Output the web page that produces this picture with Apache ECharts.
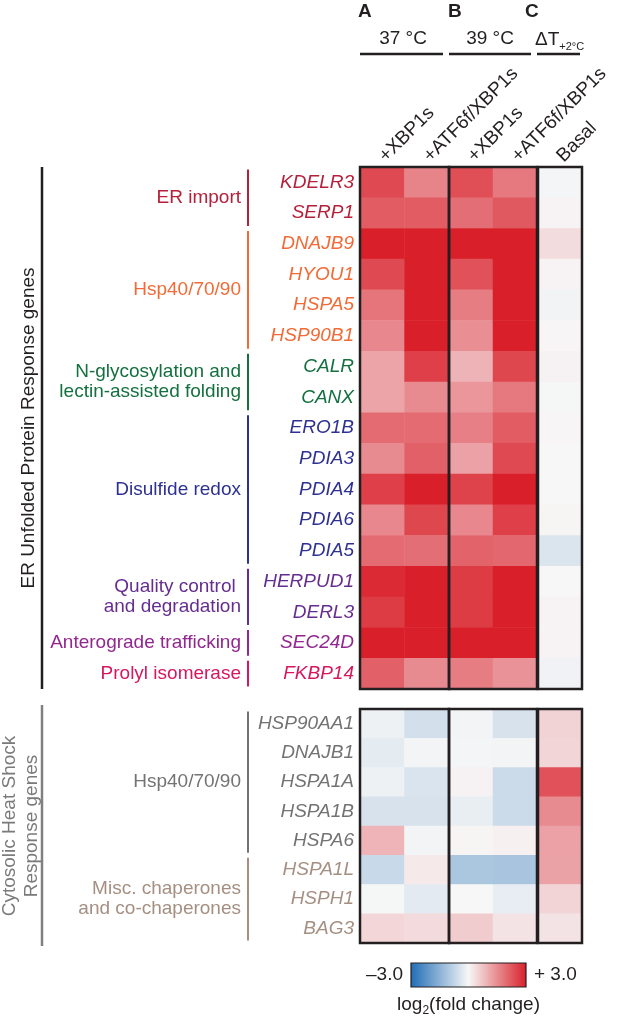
<!DOCTYPE html>
<html>
<head>
<meta charset="utf-8">
<script src="https://cdn.jsdelivr.net/npm/echarts@6/dist/echarts.min.js"></script>
<style>
  html, body { margin: 0; padding: 0; background: #fff; }
  #main { width: 617px; height: 1020px; }
</style>
</head>
<body>
<div id="main"></div>
<script>
// genes (rows)
const uprGenes = ['KDELR3', 'SERP1', 'DNAJB9', 'HYOU1', 'HSPA5', 'HSP90B1', 'CALR', 'CANX', 'ERO1B',
  'PDIA3', 'PDIA4', 'PDIA6', 'PDIA5', 'HERPUD1', 'DERL3', 'SEC24D', 'FKBP14'];
const hsGenes = ['HSP90AA1', 'DNAJB1', 'HSPA1A', 'HSPA1B', 'HSPA6', 'HSPA1L', 'HSPH1', 'BAG3'];

// conditions (columns)
const conditions37 = ['+XBP1s', '+ATF6f/XBP1s'];
const conditions39 = ['+XBP1s', '+ATF6f/XBP1s'];
const conditionsDelta = ['Basal'];

// log2(fold change), ER UPR genes
const upr37XBP1s = [2.4, 2.15, 3.0, 2.4, 1.8, 1.55, 1.15, 1.15, 1.95, 1.5, 2.55, 1.55, 1.95, 2.85, 2.6, 3.0, 2.1];
const upr37ATF6 = [1.6, 2.15, 3.0, 3.0, 3.0, 3.0, 2.55, 1.5, 1.95, 2.1, 3.0, 2.45, 1.9, 3.0, 3.0, 3.0, 1.5];
const upr39XBP1s = [2.35, 1.9, 3.0, 2.3, 1.7, 1.45, 0.95, 1.35, 1.65, 1.2, 2.5, 1.55, 2.05, 2.6, 2.6, 3.0, 1.7];
const upr39ATF6 = [1.75, 2.2, 3.0, 3.0, 3.0, 3.0, 2.45, 1.75, 2.15, 2.4, 3.0, 2.55, 2.0, 3.0, 3.0, 3.0, 1.4];
const uprBasal = [-0.04, 0.05, 0.37, 0.05, -0.08, 0.03, 0.08, -0.03, 0.03, 0.0, 0.0, 0.04, -0.4, 0.0, 0.05, 0.05, -0.1];

// log2(fold change), cytosolic heat shock genes
const hs37XBP1s = [-0.12, -0.26, -0.14, -0.45, 0.93, -0.65, -0.03, 0.45];
const hs37ATF6 = [-0.5, -0.06, -0.42, -0.45, -0.06, 0.2, -0.28, 0.4];
const hs39XBP1s = [-0.06, -0.05, 0.08, -0.19, 0.04, -1.05, 0.0, 0.6];
const hs39ATF6 = [-0.45, -0.06, -0.6, -0.6, 0.1, -1.1, -0.22, 0.28];
const hsBasal = [0.5, 0.47, 2.3, 1.5, 1.2, 1.18, 0.48, 0.28];

// colour scale
const scaleMin = -3, scaleMax = 3;
const scaleLabels = ['\u20133.0', '+ 3.0'];

// functional groups
const uprGroupNames = ['ER import', 'Hsp40/70/90', 'N-glycosylation and\nlectin-assisted folding',
  'Disulfide redox', 'Quality control \nand degradation', 'Anterograde trafficking', 'Prolyl isomerase'];
const uprGroupSizes = [2, 4, 2, 5, 2, 1, 1];
const hsGroupNames = ['Hsp40/70/90', 'Misc. chaperones\nand co-chaperones'];
const hsGroupSizes = [5, 3];

const uprGroupColors = ['#b5203a', '#f26a35', '#14703f', '#2e3192', '#652d90', '#92278f', '#d6175e'];
const hsGroupColors = ['#737373', '#a48f82'];
const rampColors = ['#1f6db5', '#f7f7f7', '#d91f29'];

const FONT = '"Liberation Sans", Arial, sans-serif';
const INK = '#231f20';

// layout
const BOX_X = [360, 449, 538];
const BOX_W = [89, 88, 44];
const SECT_Y = [167, 709];
const SECT_H = [522, 234];
const BAR = { x: 411, y: 963, w: 115, h: 24 };

function rowColors(sizes, colors) {
  const out = [];
  sizes.forEach((n, i) => { for (let k = 0; k < n; k++) out.push(colors[i]); });
  return out;
}

const sections = [
  { genes: uprGenes, cols: [[upr37XBP1s, upr37ATF6], [upr39XBP1s, upr39ATF6], [uprBasal]],
    colors: rowColors(uprGroupSizes, uprGroupColors) },
  { genes: hsGenes, cols: [[hs37XBP1s, hs37ATF6], [hs39XBP1s, hs39ATF6], [hsBasal]],
    colors: rowColors(hsGroupSizes, hsGroupColors) }
];
const boxLabels = [conditions37, conditions39, conditionsDelta];

const grids = [], xAxes = [], yAxes = [], series = [];
sections.forEach((sec, s) => {
  sec.cols.forEach((cols, b) => {
    const gi = grids.length;
    grids.push({ left: BOX_X[b], top: SECT_Y[s], width: BOX_W[b], height: SECT_H[s] });
    xAxes.push({
      type: 'category', gridIndex: gi, data: boxLabels[b], position: 'top',
      axisLine: { show: false }, axisTick: { show: false }, splitLine: { show: false },
      axisLabel: { show: s === 0, rotate: -45, interval: 0, margin: 8, fontSize: 19, fontFamily: FONT, color: INK }
    });
    yAxes.push({
      type: 'category', gridIndex: gi, data: sec.genes, inverse: true,
      axisLine: { show: false }, axisTick: { show: false }, splitLine: { show: false },
      axisLabel: {
        show: b === 0, interval: 0, margin: 6, fontSize: 19, fontStyle: 'italic', fontFamily: FONT,
        color: (v, i) => sec.colors[i]
      }
    });
    const data = [];
    cols.forEach((vals, xi) => vals.forEach((v, yi) => data.push([xi, yi, v])));
    series.push({
      type: 'heatmap', xAxisIndex: gi, yAxisIndex: gi, data: data,
      emphasis: { disabled: true }, itemStyle: { borderWidth: 0 }
    });
  });
});

const chart = echarts.init(document.getElementById('main'));
chart.setOption({
  animation: false,
  grid: grids,
  xAxis: xAxes,
  yAxis: yAxes,
  visualMap: {
    type: 'continuous', show: false, min: scaleMin, max: scaleMax,
    inRange: { color: rampColors },
    seriesIndex: series.map((_, i) => i)
  },
  series: series
});

// annotations
const g = [];
function txt(x, y, text, opt) {
  const o = Object.assign({ size: 19, color: INK, align: 'left', valign: 'middle', weight: 'normal', rot: 0, lh: 20 }, opt || {});
  g.push({
    type: 'text', x: x, y: y, rotation: o.rot, z: 10,
    style: {
      text: text, fontSize: o.size, fontFamily: FONT, fontWeight: o.weight, fill: o.color, lineHeight: o.lh,
      align: o.align, textAlign: o.align, verticalAlign: o.valign, textVerticalAlign: o.valign,
      rich: o.rich
    }
  });
}
function line(x1, y1, x2, y2, color, w) {
  g.push({ type: 'line', z: 10, shape: { x1: x1, y1: y1, x2: x2, y2: y2 }, style: { stroke: color, lineWidth: w } });
}

// panel letters and temperature headers
txt(358, 12, 'A', { weight: 'bold' });
txt(448, 12, 'B', { weight: 'bold' });
txt(525, 12, 'C', { weight: 'bold' });
txt(BOX_X[0] + 43, 39, '37 \u00b0C', { align: 'center' });
txt(BOX_X[1] + 41, 39, '39 \u00b0C', { align: 'center' });
txt(535, 40, '{a|\u0394T}{s|+2\u00b0C}', {
  rich: { a: { fontSize: 19, fontFamily: FONT, fill: INK }, s: { fontSize: 11, fontFamily: FONT, fill: INK, padding: [14, 0, 0, 0] } }
});
line(BOX_X[0], 54, BOX_X[0] + 83, 54, INK, 2.5);
line(BOX_X[1], 54, BOX_X[1] + 82, 54, INK, 2.5);
line(BOX_X[2] - 1, 54, BOX_X[2] + 42, 54, INK, 2.5);

// boxes round heatmap blocks
sections.forEach((sec, s) => {
  BOX_X.forEach((bx, b) => {
    g.push({ type: 'rect', z: 20, shape: { x: bx, y: SECT_Y[s], width: BOX_W[b], height: SECT_H[s] },
      style: { fill: 'none', stroke: INK, lineWidth: 2.5 } });
  });
});

// group brackets and labels
function groups(gridIndex, names, sizes, colors, nRows, sectH) {
  const half = sectH / nRows / 2;
  let start = 0;
  names.forEach((name, i) => {
    const yTop = chart.convertToPixel({ gridIndex: gridIndex }, [0, start])[1] - half;
    const yBot = chart.convertToPixel({ gridIndex: gridIndex }, [0, start + sizes[i] - 1])[1] + half;
    line(248, yTop + 2.5, 248, yBot - 2.5, colors[i], 2);
    txt(241, (yTop + yBot) / 2, name, { align: 'right', color: colors[i] });
    start += sizes[i];
  });
}
groups(0, uprGroupNames, uprGroupSizes, uprGroupColors, uprGenes.length, SECT_H[0]);
groups(3, hsGroupNames, hsGroupSizes, hsGroupColors, hsGenes.length, SECT_H[1]);

// section titles
line(42, SECT_Y[0], 42, SECT_Y[0] + SECT_H[0], INK, 2.5);
txt(29, SECT_Y[0] + SECT_H[0] / 2, 'ER Unfolded Protein Response genes', { align: 'center', rot: Math.PI / 2 });
line(42, SECT_Y[1] - 4, 42, SECT_Y[1] + SECT_H[1] + 3, '#808080', 2.5);
txt(21, SECT_Y[1] + SECT_H[1] / 2, 'Cytosolic Heat Shock\nResponse genes',
  { align: 'center', rot: Math.PI / 2, color: '#7a7a7a', lh: 22 });

// colour bar, built from the same ramp as the visual map
g.push({ type: 'rect', z: 20, shape: { x: BAR.x, y: BAR.y, width: BAR.w, height: BAR.h },
  style: {
    stroke: INK, lineWidth: 1.2,
    fill: { type: 'linear', x: 0, y: 0, x2: 1, y2: 0,
      colorStops: rampColors.map((c, i) => ({ offset: i / (rampColors.length - 1), color: c })) }
  } });
txt(BAR.x - 8, BAR.y + BAR.h / 2, scaleLabels[0], { align: 'right' });
txt(BAR.x + BAR.w + 8, BAR.y + BAR.h / 2, scaleLabels[1], { align: 'left' });
txt(BAR.x + BAR.w / 2, 1005, '{t|log}{s|2}{t|(fold change)}', {
  align: 'center',
  rich: { t: { fontSize: 19, fontFamily: FONT, fill: INK }, s: { fontSize: 12, fontFamily: FONT, fill: INK, padding: [12, 0, 0, 0] } }
});

chart.setOption({ graphic: { elements: g } });
</script>
</body>
</html>
